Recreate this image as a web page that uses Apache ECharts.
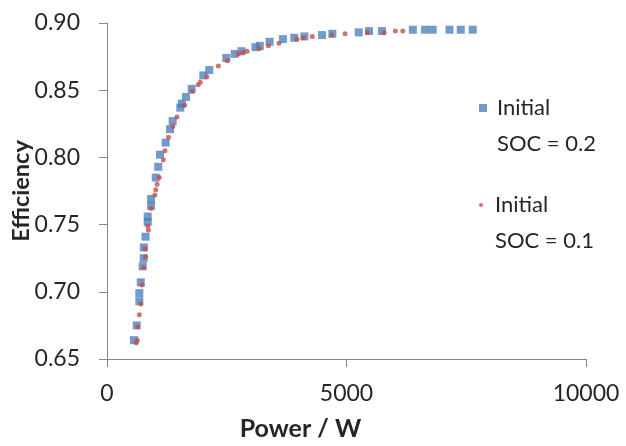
<!DOCTYPE html>
<html>
<head>
<meta charset="utf-8">
<script src="https://cdn.jsdelivr.net/npm/echarts@6/dist/echarts.min.js"></script>
<style>html,body{margin:0;padding:0;background:#fff}#c{width:626px;height:446px}</style>
</head>
<body>
<div id="c"></div>
<script>
// Initial SOC = 0.2 (blue squares)
const powerSoc02 = [564, 620, 675, 675, 705, 745, 766, 770, 805, 850, 850, 920, 920, 1017, 1070, 1107, 1225, 1315, 1370, 1530, 1560, 1650, 1768, 2010, 2135, 2490, 2665, 2810, 3100, 3190, 3395, 3675, 3910, 4120, 4490, 4705, 5255, 5470, 5740, 6385, 6640, 6800, 7150, 7385, 7635];
const effSoc02   = [0.664, 0.675, 0.693, 0.699, 0.707, 0.719, 0.725, 0.733, 0.741, 0.752, 0.756, 0.764, 0.769, 0.785, 0.793, 0.802, 0.811, 0.821, 0.827, 0.837, 0.840, 0.845, 0.851, 0.861, 0.865, 0.874, 0.877, 0.879, 0.882, 0.883, 0.886, 0.888, 0.889, 0.890, 0.891, 0.892, 0.893, 0.894, 0.894, 0.895, 0.895, 0.895, 0.895, 0.895, 0.895];
// Initial SOC = 0.1 (red dots)
const powerSoc01 = [610, 633, 640, 675, 705, 730, 765, 795, 805, 850, 865, 920, 1000, 1017, 1045, 1092, 1175, 1210, 1285, 1375, 1460, 1620, 1780, 1905, 1946, 2083, 2325, 2510, 2742, 2834, 2925, 3185, 3370, 3590, 3965, 4100, 4285, 4690, 4970, 5435, 5785, 6020, 6175];
const effSoc01   = [0.662, 0.664, 0.674, 0.683, 0.691, 0.705, 0.718, 0.732, 0.726, 0.749, 0.746, 0.762, 0.772, 0.776, 0.780, 0.785, 0.798, 0.805, 0.815, 0.823, 0.830, 0.839, 0.849, 0.854, 0.856, 0.860, 0.868, 0.872, 0.877, 0.878, 0.879, 0.881, 0.883, 0.885, 0.888, 0.889, 0.890, 0.891, 0.892, 0.893, 0.893, 0.894, 0.894];
const seriesNames = ['Initial\nSOC = 0.2', 'Initial\nSOC = 0.1'];
const xTicks = [0, 5000, 10000];
const yTicks = [0.65, 0.70, 0.75, 0.80, 0.85, 0.90];

const toPairs = (xs, ys) => xs.map((x, i) => [x, ys[i]]);
const FONT = 'Lato, "Open Sans", sans-serif';
const TXT = '#262626';
const AX = '#868686';

const chart = echarts.init(document.getElementById('c'), null, {renderer: 'canvas'});
const legendBase = {
  orient: 'vertical', left: 474, itemWidth: 8, itemHeight: 8, itemGap: 0,
  selectedMode: false,
  formatter: n => '\n' + n,
  textStyle: {fontFamily: FONT, fontSize: 22, color: TXT, lineHeight: 36, padding: [0, 0, 0, 5]}
};
chart.setOption({
  animation: false,
  grid: {left: 107, right: 40, top: 23, bottom: 87, containLabel: false, outerBoundsMode: 'none'},
  legend: [
    Object.assign({}, legendBase, {top: 49, data: [{name: seriesNames[0], icon: 'rect'}]}),
    Object.assign({}, legendBase, {top: 146, itemWidth: 8, itemHeight: 4, data: [{name: seriesNames[1], icon: 'circle'}]})
  ],
  xAxis: {
    type: 'value', min: xTicks[0], max: xTicks[xTicks.length - 1], interval: 5000,
    name: 'Power / W', nameLocation: 'middle', nameGap: 57, nameMoveOverlap: false,
    nameTextStyle: {fontFamily: FONT, fontSize: 25, fontWeight: 'bold', color: TXT, padding: [0, 92, 0, 0]},
    axisLine: {show: true, lineStyle: {color: AX, width: 1}},
    axisTick: {show: true, inside: false, length: 8, lineStyle: {color: AX}},
    axisLabel: {margin: 23, fontFamily: FONT, fontSize: 23, color: TXT, formatter: v => String(v)},
    splitLine: {show: false}
  },
  yAxis: {
    type: 'value', min: yTicks[0], max: yTicks[yTicks.length - 1], interval: 0.05,
    name: 'Efficiency', nameLocation: 'middle', nameGap: 74, nameRotate: 90, nameMoveOverlap: false,
    nameTextStyle: {fontFamily: FONT, fontSize: 23.5, fontWeight: 'bold', color: TXT},
    axisLine: {show: true, lineStyle: {color: AX, width: 1}},
    axisTick: {show: true, inside: false, length: 8, lineStyle: {color: AX}},
    axisLabel: {margin: 27, fontFamily: FONT, fontSize: 23, color: TXT, formatter: v => v.toFixed(2)},
    splitLine: {show: false}
  },
  series: [
    {
      name: seriesNames[0], type: 'scatter', symbol: 'rect', symbolSize: 8,
      itemStyle: {color: '#4F81BD'}, data: toPairs(powerSoc02, effSoc02)
    },
    {
      name: seriesNames[1], type: 'scatter', symbol: 'circle', symbolSize: 5,
      itemStyle: {color: '#C0504D'}, data: toPairs(powerSoc01, effSoc01)
    }
  ]
});
</script>
</body>
</html>
